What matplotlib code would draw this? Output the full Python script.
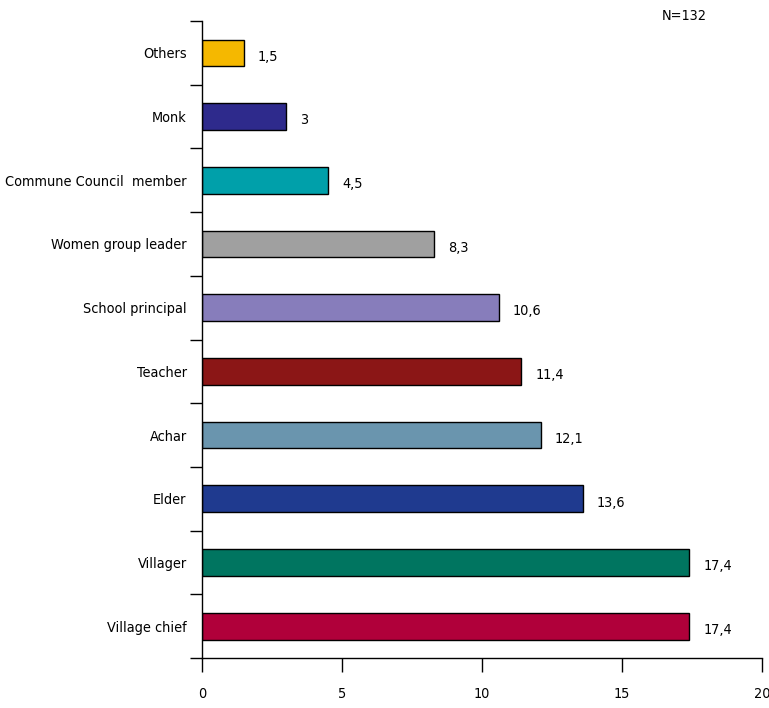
import matplotlib.pyplot as plt
from matplotlib import font_manager

# categories from bottom to top
categories = ["Village chief", "Villager", "Elder", "Achar", "Teacher",
              "School principal", "Women group leader", "Commune Council  member",
              "Monk", "Others"]
values = [17.4, 17.4, 13.6, 12.1, 11.4, 10.6, 8.3, 4.5, 3, 1.5]
labels = ["17,4", "17,4", "13,6", "12,1", "11,4", "10,6", "8,3", "4,5", "3", "1,5"]
colors = ["#B0003A", "#007560", "#1F3A8F", "#6A95AE", "#8B1616",
          "#877DBB", "#A0A0A0", "#00A0AA", "#2E2A8C", "#F5B800"]

# try a narrow font, the original uses a condensed face
fonts = font_manager.fontManager.ttflist
names = {f.name for f in fonts}
if "Liberation Sans Narrow" in names:
    plt.rcParams['font.family'] = ['Liberation Sans Narrow', 'DejaVu Sans']
    fsize = 11.5
elif any(f.name == "DejaVu Sans" and f.stretch == "condensed" for f in fonts):
    plt.rcParams['font.family'] = ['DejaVu Sans']
    plt.rcParams['font.stretch'] = 'condensed'
    fsize = 10.4
else:
    plt.rcParams['font.family'] = ['DejaVu Sans']
    fsize = 9.3
plt.rcParams['font.size'] = fsize

fig = plt.figure(figsize=(7.69, 7.08), dpi=100)
ax = fig.add_axes([0.2627, 0.0706, 0.7282, 0.8997])

y = list(range(len(categories)))
ax.barh(y, values, height=0.42, color=colors, edgecolor="black", linewidth=1)

for yi, v, lab in zip(y, values, labels):
    ax.text(v + 0.5, yi - 0.06, lab, va="center", ha="left")

ax.set_xlim(0, 20)
ax.set_ylim(-0.5, len(categories) - 0.5)
ax.set_xticks([0, 5, 10, 15, 20])
ax.set_yticks(y)
ax.set_yticklabels(categories)
ax.tick_params(axis="y", length=0, pad=11)
ax.set_yticks([i - 0.5 for i in range(len(categories) + 1)], minor=True)
ax.tick_params(axis="y", which="minor", length=9, width=1)
ax.tick_params(axis="x", length=10, width=1, pad=11)

for s in ["top", "right"]:
    ax.spines[s].set_visible(False)
for s in ["left", "bottom"]:
    ax.spines[s].set_linewidth(1)

fig.text(0.89, 0.978, "N=132", ha="center", va="center")

fig.savefig("out.png", dpi=100)
